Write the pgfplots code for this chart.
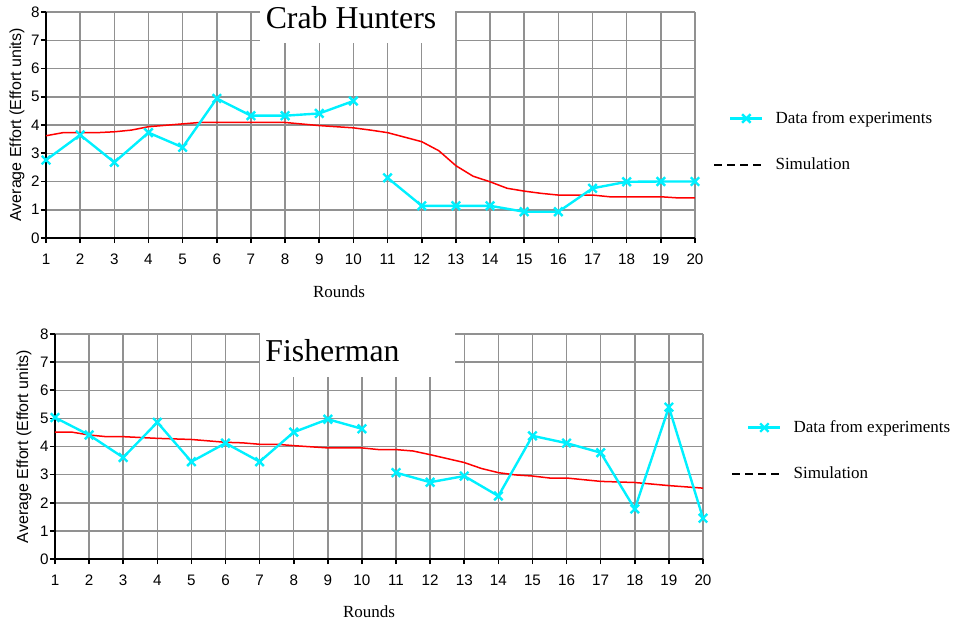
\documentclass[border=0pt]{standalone}
\usepackage{fontspec}
\setmainfont{Liberation Serif}
\setsansfont{Liberation Sans}
\usepackage{pgfplots}
\pgfplotsset{compat=1.18}
\definecolor{gridgray}{RGB}{145,145,145}
\definecolor{expcyan}{RGB}{0,240,255}
\pgfplotsset{
 effort/.style={
  scale only axis, width=324.5pt, height=113pt,
  xmin=1,xmax=20,ymin=0,ymax=8,
  xtick={1,...,20}, ytick={0,...,8},
  axis lines*=left,
  axis line style={black,line width=1pt},
  grid=major, major grid style={gridgray,line width=0.75pt},
  tick align=outside, major tick length=2.5pt, tick style={black,line width=0.8pt},
  ticklabel style={font=\sffamily\fontsize{7.6}{9}\selectfont},
  /pgf/number format/assume math mode=true,
  yticklabel style={inner sep=0.5pt},
  xticklabel style={yshift=-2pt},
  xlabel style={font=\fontsize{8.5}{10}\selectfont},
  unbounded coords=jump,
  legend style={draw=none,fill=none,inner sep=0pt,column sep=6pt,row sep=16pt,
    nodes={inner sep=0pt},font=\fontsize{8.5}{10}\selectfont,anchor=west},
  legend cell align=left,
 },
 exp/.style={expcyan,line width=1.2pt,mark=x,mark size=3pt,mark options={line width=1.2pt},
   legend image code/.code={\draw[mark repeat=2,mark phase=2,##1] plot coordinates {(0pt,0pt) (8pt,0pt) (16pt,0pt)};}},
 sim/.style={red,line width=0.75pt,forget plot},
 simleg/.style={black,line width=1pt,dash pattern=on 4pt off 2.5pt,
   legend image code/.code={\draw[##1] (-8pt,0pt) -- (16pt,0pt);}},
}
\begin{document}
\begin{tikzpicture}
\useasboundingbox (0,0) rectangle (477.5pt,-311pt);
% ---------- Crab Hunters ----------
\begin{axis}[effort, at={(23pt,-119pt)}, anchor=south west,
  xlabel={Rounds}, xlabel style={at={(axis description cs:0.4515,-0.237)},anchor=center},
  ylabel={Average Effort (Effort units)},
  every axis y label/.style={at={(axis description cs:-0.0447,0.5)},anchor=center,rotate=90,font=\sffamily\fontsize{8}{9}\selectfont},
  legend style={at={(axis description cs:1.0277,0.425)}}]
\addplot[sim] coordinates {(1,3.62) (1.5,3.73) (2,3.73) (2.5,3.73) (3,3.76) (3.5,3.82) (4,3.94) (5,4.04) (5.5,4.09) (6,4.09) (7,4.09) (8,4.09) (9,3.98) (10,3.90) (10.5,3.82) (11,3.73) (12,3.41) (12.5,3.09) (13,2.56) (13.5,2.19) (14,1.99) (14.5,1.76) (15,1.66) (15.5,1.58) (16,1.52) (17,1.52) (17.5,1.46) (18,1.46) (19,1.46) (19.5,1.42) (20,1.42)};
\addplot[exp] coordinates {(1,2.76) (2,3.65) (3,2.68) (4,3.73) (5,3.21) (6,4.94) (7,4.33) (8,4.33) (9,4.41) (10,4.85) (10.5,nan) (11,2.13) (12,1.14) (13,1.14) (14,1.14) (15,0.93) (16,0.93) (17,1.76) (18,1.99) (19,2.00) (20,2.00)};
\addlegendentry{Data from experiments}
\addlegendimage{simleg}
\addlegendentry{Simulation}
\end{axis}
% ---------- Fisherman ----------
\begin{axis}[effort, width=324pt, height=112.5pt, at={(27.5pt,-279.5pt)}, anchor=south west,
  xlabel={Rounds}, xlabel style={at={(axis description cs:0.4846,-0.2356)},anchor=center},
  ylabel={Average Effort (Effort units)},
  every axis y label/.style={at={(axis description cs:-0.048,0.5)},anchor=center,rotate=90,font=\sffamily\fontsize{8}{9}\selectfont},
  legend style={at={(axis description cs:1.0432,0.48)}}]
\addplot[sim] coordinates {(1,4.51) (1.5,4.51) (2,4.41) (2.5,4.35) (3,4.35) (4,4.29) (5,4.25) (6,4.15) (6.5,4.13) (7,4.08) (7.5,4.08) (8,4.03) (9,3.95) (10,3.95) (10.5,3.89) (11,3.89) (11.5,3.84) (12,3.71) (13,3.43) (13.5,3.22) (14,3.07) (14.5,2.99) (15,2.95) (15.5,2.88) (16,2.88) (17,2.76) (18,2.72) (19,2.61) (20,2.52)};
\addplot[exp] coordinates {(1,5.03) (2,4.41) (3,3.61) (4,4.86) (5,3.46) (6,4.12) (7,3.46) (8,4.51) (9,4.97) (10,4.63) (10.5,nan) (11,3.07) (12,2.73) (13,2.95) (14,2.24) (15,4.38) (16,4.12) (17,3.78) (18,1.78) (19,5.40) (20,1.45)};
\addlegendentry{Data from experiments}
\addlegendimage{simleg}
\addlegendentry{Simulation}
\end{axis}
% title boxes
\fill[white] (130pt,0pt) rectangle (227.5pt,-21.5pt);
\fill[white] (130pt,-162.5pt) rectangle (227.5pt,-188.5pt);
\node[anchor=center,font=\fontsize{15.9}{18}\selectfont,inner sep=0pt] at (175.5pt,-8.75pt) {Crab Hunters};
\node[anchor=center,font=\fontsize{15.9}{18}\selectfont,inner sep=0pt] at (166.25pt,-175.2pt) {Fisherman};
\end{tikzpicture}
\end{document}
